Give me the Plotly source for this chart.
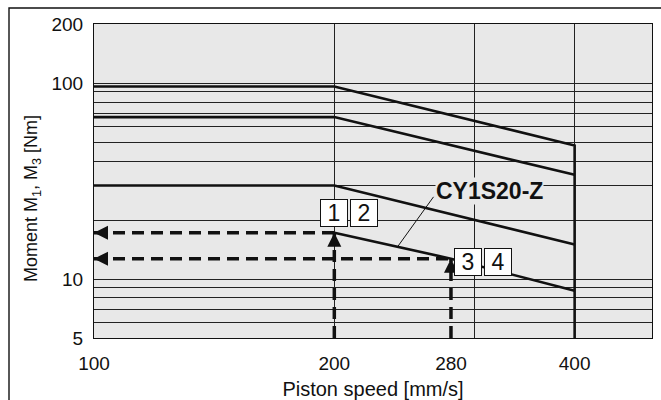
import numpy as np
import plotly.graph_objects as go

# Allowable moment [Nm] against piston speed [mm/s]
speed_a = [100, 200, 400, 400]
moment_a = [96, 96, 48, 5]
speed_b = [100, 200, 400]
moment_b = [67, 67, 34]
speed_c = [100, 200, 400]
moment_c = [30, 30, 15]
speed_d = [200, 280, 400]          # CY1S20-Z
moment_d = [17.2, 12.7, 8.7]

# Worked examples
example_speed = [200, 280]
example_moment = [17.2, 12.7]
example_labels = [["1", "2"], ["3", "4"]]

series_name = "CY1S20-Z"

x_ticks = [100, 200, 280, 400]
y_ticks = [5, 10, 100, 200]
x_grid = [200, 300, 400]
y_grid = [6, 7, 8, 9, 10, 20, 30, 40, 50, 60, 70, 80, 90, 100]
x_range = [100, 500]
y_range = [5, 200]

x_title = "Piston speed [mm/s]"
y_title = "Moment M<sub>1</sub>, M<sub>3</sub> [Nm]"

FONT = "Liberation Sans, Arial, Helvetica, sans-serif"
INK = "#111111"
PLOT_BG = "#e8e8e8"

W, H = 661, 400
M_L, M_R, M_T, M_B = 94, 9, 24, 62
plot_w = W - M_L - M_R
plot_h = H - M_T - M_B

lg = np.log10
# pixels per decade on each log axis
ppd_x = plot_w / (lg(x_range[1]) - lg(x_range[0]))
ppd_y = plot_h / (lg(y_range[1]) - lg(y_range[0]))

fig = go.Figure()

# limit curves
for xs, ys in [(speed_a, moment_a), (speed_b, moment_b),
               (speed_c, moment_c), (speed_d, moment_d)]:
    fig.add_trace(go.Scatter(x=xs, y=ys, mode="lines",
                             line=dict(color=INK, width=2.6),
                             hoverinfo="skip"))

# dashed reading lines of the examples, with arrow heads
for s, m in zip(example_speed, example_moment):
    fig.add_trace(go.Scatter(x=[x_range[0], s], y=[m, m], mode="lines",
                             line=dict(color=INK, width=3.5, dash="12px,7px"),
                             hoverinfo="skip", cliponaxis=False))
    fig.add_trace(go.Scatter(x=[s, s], y=[y_range[0], m], mode="lines",
                             line=dict(color=INK, width=3.5, dash="12px,7px"),
                             hoverinfo="skip", cliponaxis=False))
    fig.add_trace(go.Scatter(x=[x_range[0], s], y=[m, m], mode="markers",
                             marker=dict(symbol=["arrow-left", "arrow-up"],
                                         size=14, color=INK,
                                         line=dict(width=0)),
                             hoverinfo="skip", cliponaxis=False))

# numbered boxes
box_offsets = [(dict(xshift=0, yshift=6, yanchor="bottom"),
                dict(xshift=30, yshift=6, yanchor="bottom")),
               (dict(xshift=17, yshift=-3, yanchor="middle"),
                dict(xshift=47, yshift=-3, yanchor="middle"))]
for (s, m), labels, offs in zip(zip(example_speed, example_moment),
                                example_labels, box_offsets):
    for lab, off in zip(labels, offs):
        fig.add_annotation(x=lg(s), y=lg(m), text=lab, showarrow=False,
                           font=dict(family=FONT, size=23, color=INK),
                           bgcolor="white", bordercolor=INK, borderwidth=1,
                           borderpad=1, width=24, height=24,
                           xanchor="center", **off)

# series label with a leader line to the CY1S20-Z curve
lead_x = 240
lead_y = 10 ** np.interp(lg(lead_x), lg(speed_d), lg(moment_d))
tail_dx, tail_dy = 36, 50
tail_x = 10 ** (lg(lead_x) + tail_dx / ppd_x)
tail_y = 10 ** (lg(lead_y) + tail_dy / ppd_y)
fig.add_trace(go.Scatter(x=[lead_x, tail_x], y=[lead_y, tail_y], mode="lines",
                         line=dict(color=INK, width=1), hoverinfo="skip"))
fig.add_annotation(x=lg(lead_x), y=lg(lead_y), text="<b>%s</b>" % series_name,
                   showarrow=False, xanchor="left", yanchor="middle",
                   xshift=37, yshift=56, bgcolor=PLOT_BG, borderpad=0,
                   font=dict(family=FONT, size=23, color=INK))

# vertical axis title
fig.add_annotation(xref="paper", yref="paper",
                   x=(32 - M_L) / plot_w, y=(plot_h + M_T - 199) / plot_h,
                   text=y_title, textangle=-90, showarrow=False,
                   xanchor="center", yanchor="middle",
                   font=dict(family=FONT, size=18, color=INK))

# outer frame of the figure
fig.add_shape(type="rect", xref="paper", yref="paper",
              x0=-(M_L - 9) / plot_w, x1=1.05,
              y0=-0.25, y1=(plot_h + M_T - 8) / plot_h,
              line=dict(color=INK, width=1.4), layer="below")

fig.update_layout(
    width=W, height=H,
    margin=dict(l=M_L, r=M_R, t=M_T, b=M_B, autoexpand=False),
    paper_bgcolor="white", plot_bgcolor=PLOT_BG,
    showlegend=False,
    font=dict(family=FONT, size=19, color=INK),
)
fig.update_xaxes(
    type="log", range=[lg(x_range[0]), lg(x_range[1])], automargin=False,
    tickmode="array", tickvals=x_ticks, ticktext=[str(v) for v in x_ticks],
    showgrid=False, ticks="", zeroline=False,
    showline=True, linecolor=INK, linewidth=1.2, mirror=True,
    minor=dict(tickmode="array", tickvals=x_grid, showgrid=True,
               gridcolor="#222222", gridwidth=1, ticks=""),
    title=dict(text=x_title, font=dict(size=20), standoff=9),
    ticklabelstandoff=8,
)
fig.update_yaxes(
    type="log", range=[lg(y_range[0]), lg(y_range[1])], automargin=False,
    tickmode="array", tickvals=y_ticks, ticktext=[str(v) for v in y_ticks],
    showgrid=False, ticks="", zeroline=False,
    showline=True, linecolor=INK, linewidth=1.2, mirror=True,
    minor=dict(tickmode="array", tickvals=y_grid, showgrid=True,
               gridcolor="#222222", gridwidth=1, ticks=""),
    ticklabelstandoff=6,
)

fig.write_html("out.html")
